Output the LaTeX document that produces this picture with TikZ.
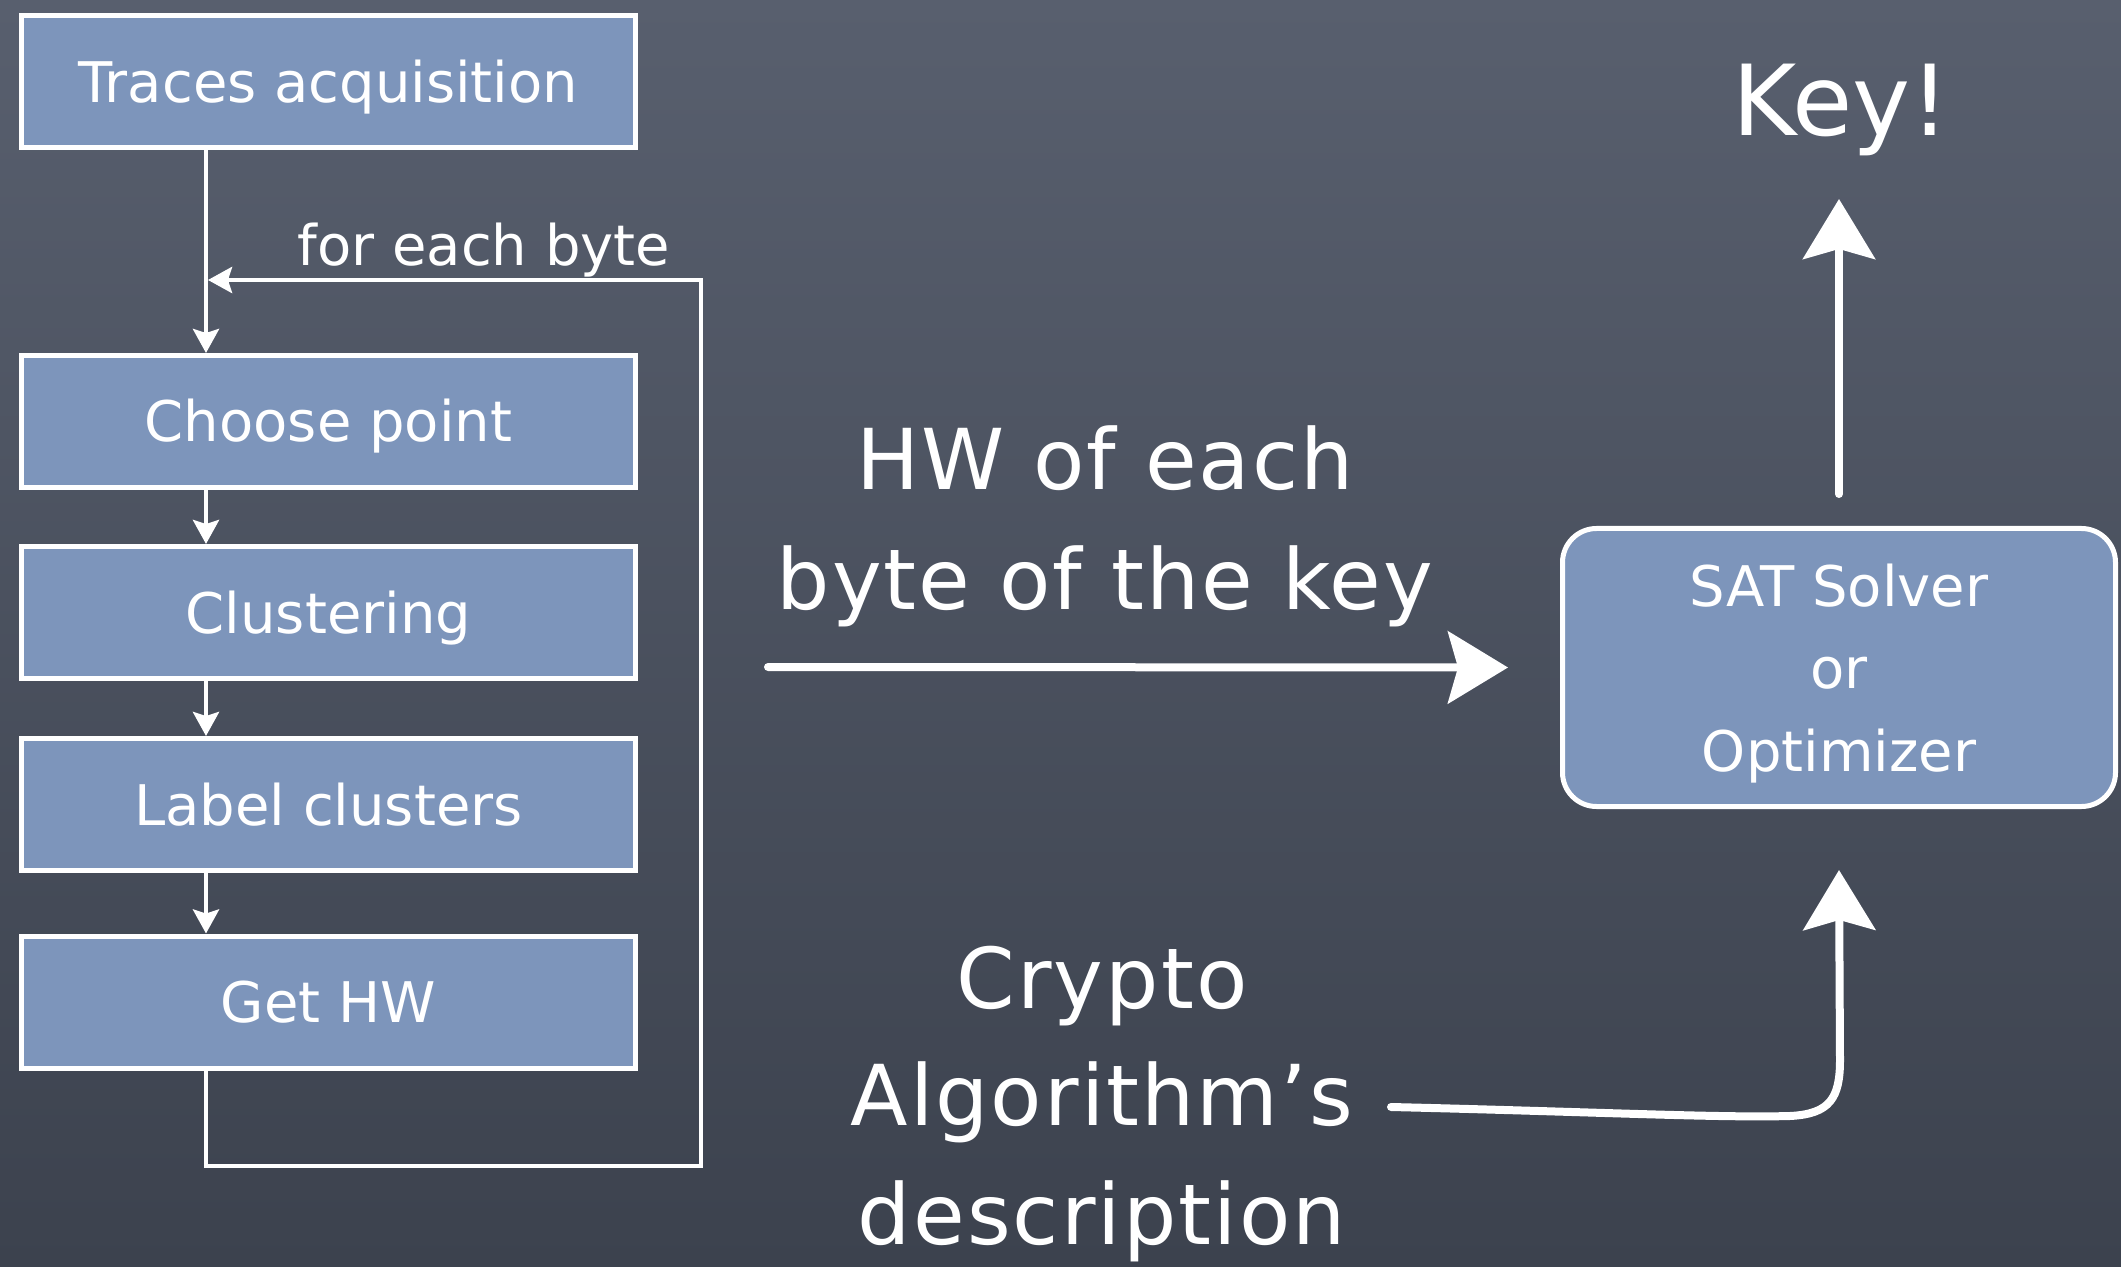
\documentclass[tikz,border=0pt]{standalone}
\usepackage{fontspec}
\setmainfont{DejaVu Sans}
\usetikzlibrary{arrows.meta}
\definecolor{bgtop}{RGB}{88,95,110}
\definecolor{bgbot}{RGB}{60,66,78}
\definecolor{boxblue}{RGB}{125,149,187}
\begin{document}
\begin{tikzpicture}[x=0.5pt,y=-0.5pt,
  stepbox/.style={draw=white,line width=2.5pt,fill=boxblue,minimum width=307pt,minimum height=66pt,
    inner sep=0pt,text height=20.5pt,text depth=0pt,font=\fontsize{28}{34}\selectfont,text=white},
  thinarrow/.style={draw=white,line width=2.2pt,-{Stealth[length=12pt,width=13pt,inset=2pt]}},
  chalk/.style={draw=white,line width=4pt,line cap=round,-{Stealth[length=30pt,width=36pt,inset=5pt]}},
  bigtext/.style={text=white,font=\fontsize{42}{50}\selectfont\addfontfeatures{LetterSpace=2.5},anchor=base,inner sep=0pt}]
\useasboundingbox (0,0) rectangle (2121,1267);
\shade[top color=bgtop,bottom color=bgbot] (0,0) rectangle (2121,1267);

% left flow
\node[stepbox] (traces) at (328.5,82) {Traces acquisition};
\node[stepbox] (choose) at (328.5,421.5) {Choose point};
\node[stepbox] (clust) at (328.5,612.5) {Clustering};
\node[stepbox] (label) at (328.5,804.5) {Label clusters};
\node[stepbox] (gethw) at (328.5,1002) {Get HW};

\coordinate (cx) at (206,0);
\draw[thinarrow] (traces.south -| cx) -- (choose.north -| cx);
\draw[thinarrow] (choose.south -| cx) -- (clust.north -| cx);
\draw[thinarrow] (clust.south -| cx) -- (label.north -| cx);
\draw[thinarrow] (label.south -| cx) -- (gethw.north -| cx);

\coordinate (lb) at (206,1166);
\coordinate (lr) at (701,1166);
\coordinate (lt) at (701,280);
\coordinate (li) at (208,280);
\draw[thinarrow] (gethw.south -| cx) -- (lb) -- (lr) -- (lt) -- (li);
\node[text=white,font=\fontsize{28}{34}\selectfont,anchor=base,inner sep=0pt] (foreach) at (484,266) {for each byte};

% right side
\node[draw=white,line width=2.5pt,fill=boxblue,rounded corners=17pt,minimum width=276.5pt,minimum height=139pt,
  align=center,text=white,text depth=0pt,font=\fontsize{28}{41.25}\selectfont] (sat) at (1839,667.5) {SAT Solver\\or\\Optimizer};
\node[text=white,font=\fontsize{49}{60}\selectfont,anchor=base,inner sep=0pt] (key) at (1841,136) {Key!};

\node[bigtext] (hw1) at (1105,490) {HW of each};
\node[bigtext] (hw2) at (1105,609) {byte of the key};
\node[bigtext] (cr1) at (1102,1008) {Crypto};
\node[bigtext] (cr2) at (1102,1125) {Algorithm’s};
\node[bigtext] (cr3) at (1102,1244) {description};

\coordinate (hwstart) at (768,667);
\coordinate (crstart) at (1391,1107);
\draw[chalk] (hwstart) -- ([xshift=-26pt]sat.west);
\draw[chalk] ([yshift=16pt]sat.north) -- ([yshift=-31.5pt]sat.north |- key.base);
\draw[chalk] (crstart) .. controls (1600,1112) and (1720,1118) .. (1790,1116)
  .. controls (1830,1114) and (1840,1098) .. (1840,1060) -- ([yshift=-30.5pt]sat.south);
\end{tikzpicture}
\end{document}
